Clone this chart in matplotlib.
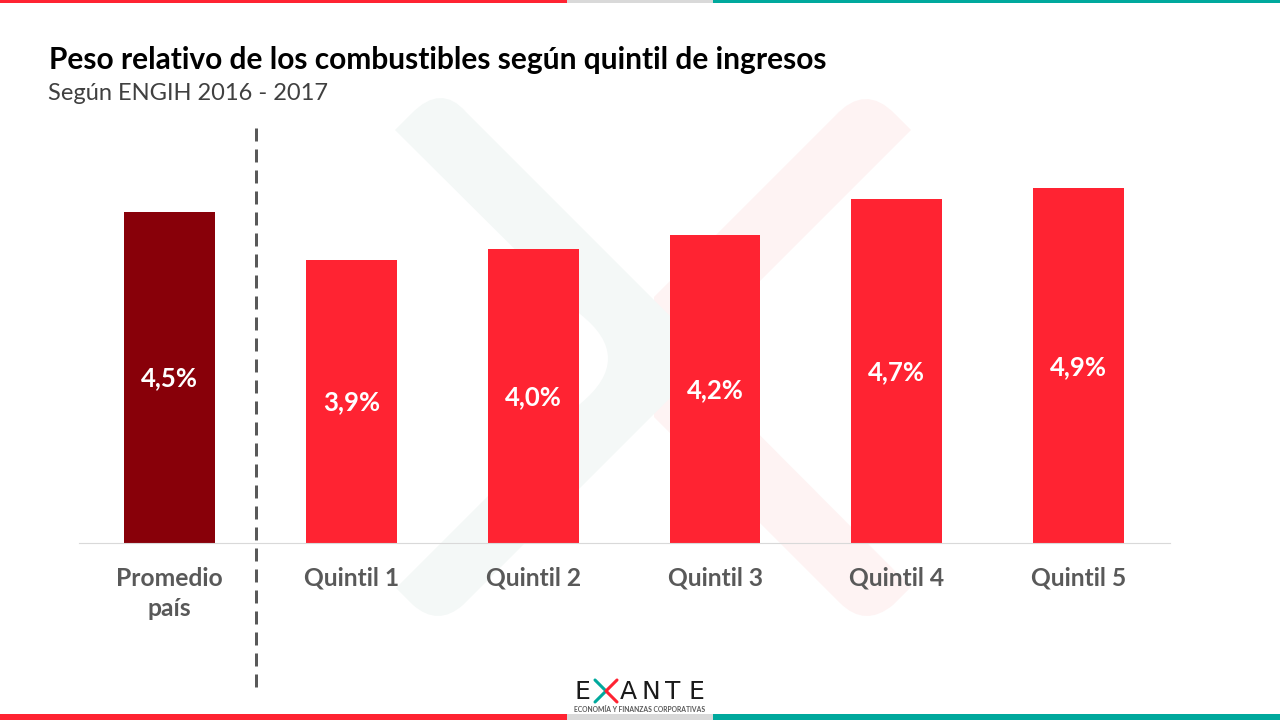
#!/usr/bin/env python3

import matplotlib
matplotlib.use("Agg")
import matplotlib.pyplot as plt
from matplotlib.patches import PathPatch, Rectangle
from matplotlib.path import Path

categories = ["Promedio\npaís", "Quintil 1", "Quintil 2", "Quintil 3", "Quintil 4", "Quintil 5"]
values = [4.52, 3.86, 4.01, 4.20, 4.69, 4.84]
value_labels = ["4,5%", "3,9%", "4,0%", "4,2%", "4,7%", "4,9%"]
bar_colors = ["#880009", "#FF2332", "#FF2332", "#FF2332", "#FF2332", "#FF2332"]

title = "Peso relativo de los combustibles según quintil de ingresos"
subtitle = "Según ENGIH 2016 - 2017"

plt.rcParams['font.family'] = ['Lato', 'DejaVu Sans']


def rounded_poly(points):
    # each point is (x, y, kind): "l" straight, "c" curve control, "e" curve end
    code_for = {"l": Path.LINETO, "c": Path.CURVE3, "e": Path.CURVE3}
    verts = [(p[0], p[1]) for p in points]
    codes = [code_for[p[2]] for p in points]
    codes[0] = Path.MOVETO
    verts.append(verts[0])
    codes.append(Path.CLOSEPOLY)
    return Path(verts, codes)


def draw_watermark(bg):
    red_shape = [
        (654, 297, "l"), (835, 116, "l"), (865, 83, "c"), (895, 114, "e"),
        (911, 130, "l"), (683, 358, "l"), (911, 587, "l"), (893, 605, "l"),
        (865, 628, "c"), (840, 603, "e"), (654, 417, "l"),
    ]
    green_shape = [
        (395, 130, "l"), (411, 114, "l"), (441, 83, "c"), (466, 112, "e"),
        (711, 357, "l"), (463, 605, "l"), (438, 627, "c"), (413, 605, "e"),
        (396, 588, "l"), (580, 404, "l"), (636, 358, "c"), (580, 314, "e"),
    ]
    bg.add_patch(PathPatch(rounded_poly(red_shape), fc="#FEF3F3", ec="none"))
    bg.add_patch(PathPatch(rounded_poly(green_shape), fc="#F4F8F7", ec="none"))


def draw_frame(bg):
    for y, h in [(0, 3), (714, 6)]:
        bg.add_patch(Rectangle((0, y), 567, h, fc="#FF2332", ec="none"))
        bg.add_patch(Rectangle((567, y), 146, h, fc="#D9D9D9", ec="none"))
        bg.add_patch(Rectangle((713, y), 567, h, fc="#00A99D", ec="none"))


def draw_logo(bg):
    for x, letter in [(582.5, "E"), (628, "A"), (651, "N"), (673, "T"), (696, "E")]:
        bg.text(x, 692, letter, fontsize=18, color="#1A1A1A", ha="center", va="center",
                family=["DejaVu Sans"])
    # the X of the logo, green on the left and red on the right
    bg.plot([595, 606, 595], [680, 691, 702], color="#00A99D", lw=2.2, solid_capstyle="round")
    bg.plot([617, 606, 617], [680, 691, 702], color="#FF2332", lw=2.2, solid_capstyle="round")
    bg.text(639.5, 709, "ECONOMÍA Y FINANZAS CORPORATIVAS", fontsize=4.9, fontweight="bold",
            color="#595959", ha="center", va="center")


fig = plt.figure(figsize=(12.8, 7.2), dpi=100, facecolor="white")

# background layer in pixel coordinates
bg = fig.add_axes([0, 0, 1, 1])
bg.set_xlim(0, 1280)
bg.set_ylim(720, 0)
bg.axis("off")

draw_watermark(bg)
draw_frame(bg)
draw_logo(bg)

bg.text(49, 60, title, fontsize=21.5, fontweight="bold", color="black", va="center")
bg.text(48, 93.5, subtitle, fontsize=17, color="#404040", va="center")
bg.plot([256, 256], [128, 688], color="#595959", lw=2.16, dashes=(4.33, 2.67), dash_capstyle="butt")

# chart layer
ax = fig.add_axes([78.6 / 1280, (720 - 543) / 720, 1091 / 1280, 423 / 720])
ax.patch.set_alpha(0)
x_pos = list(range(len(categories)))
ax.bar(x_pos, values, width=0.5, color=bar_colors)
for x, v, label in zip(x_pos, values, value_labels):
    ax.text(x, v / 2 - 0.015, label, color="white", fontsize=18.5, fontweight="bold", ha="center", va="center")

ax.set_xlim(-0.5, 5.5)
ax.set_ylim(0, 423 / 73.33)
ax.set_yticks([])
ax.set_xticks(x_pos, categories)
ax.tick_params(axis="x", length=0, pad=17, labelsize=17.7, labelcolor="#595959")
for tick in ax.get_xticklabels():
    tick.set_fontweight("bold")
    tick.set_linespacing(1.38)
for side in ["top", "left", "right"]:
    ax.spines[side].set_visible(False)
ax.spines["bottom"].set_color("#D9D9D9")
ax.spines["bottom"].set_linewidth(0.8)

fig.savefig("out.png", dpi=100)
